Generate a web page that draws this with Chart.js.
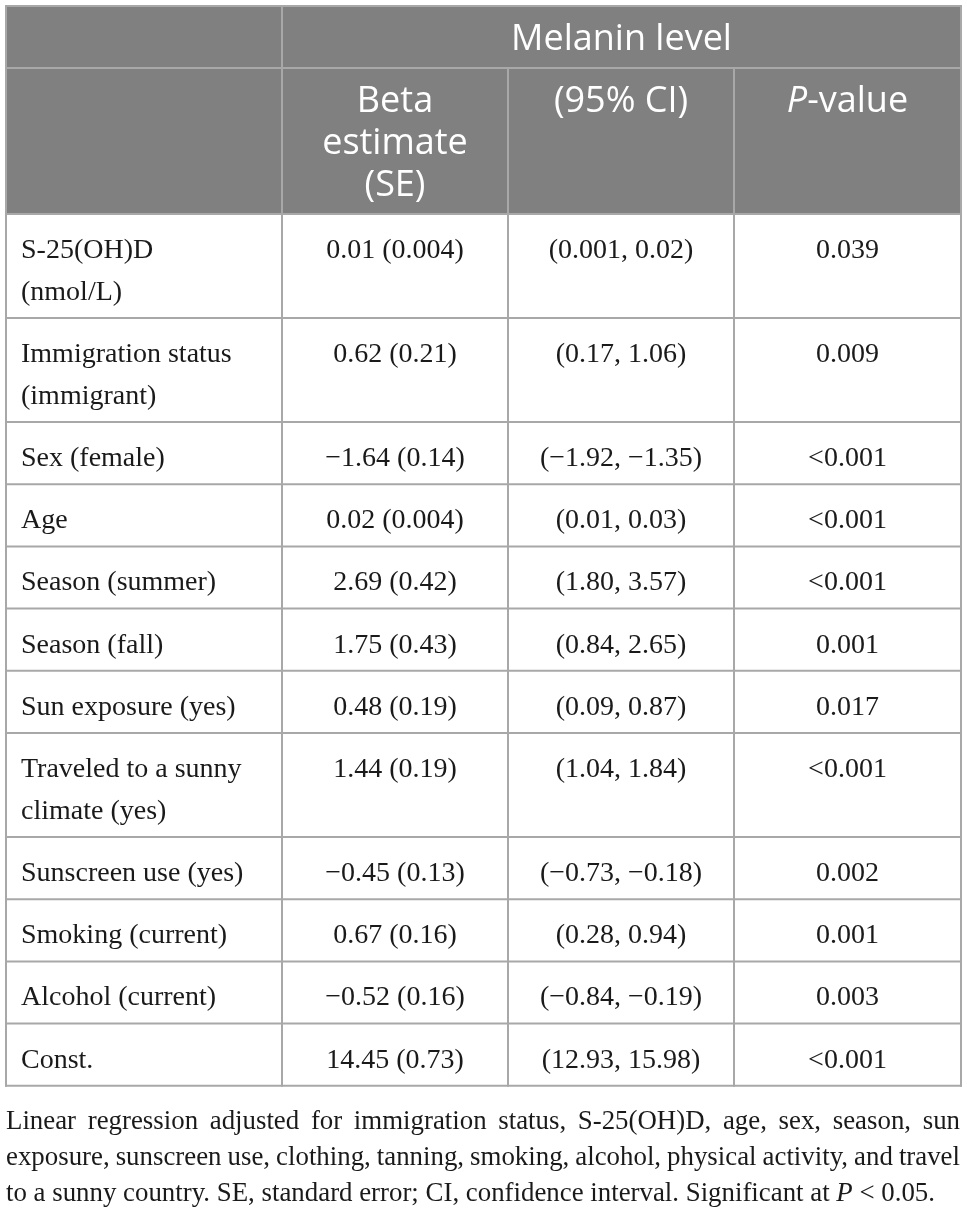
<!DOCTYPE html>
<html>
<head>
<meta charset="utf-8">
<script src="https://cdn.jsdelivr.net/npm/chart.js@4.4.1/dist/chart.umd.min.js"></script>
<style>
  html, body { margin: 0; padding: 0; background: #fff; }
  #wrap { width: 967px; height: 1214px; }
</style>
</head>
<body>
<div id="wrap"><canvas id="tableChart"></canvas></div>
<script>
// table content
const groupTitle = "Melanin level";
const columnHeads = [[], ["Beta", "estimate", "(SE)"], ["(95% CI)"], ["*P*-value"]];
const rowLabels = [
  ["S-25(OH)D", "(nmol/L)"],
  ["Immigration status", "(immigrant)"],
  ["Sex (female)"],
  ["Age"],
  ["Season (summer)"],
  ["Season (fall)"],
  ["Sun exposure (yes)"],
  ["Traveled to a sunny", "climate (yes)"],
  ["Sunscreen use (yes)"],
  ["Smoking (current)"],
  ["Alcohol (current)"],
  ["Const."]
];
const betaEstimates = ["0.01 (0.004)", "0.62 (0.21)", "\u22121.64 (0.14)", "0.02 (0.004)", "2.69 (0.42)", "1.75 (0.43)",
  "0.48 (0.19)", "1.44 (0.19)", "\u22120.45 (0.13)", "0.67 (0.16)", "\u22120.52 (0.16)", "14.45 (0.73)"];
const confIntervals = ["(0.001, 0.02)", "(0.17, 1.06)", "(\u22121.92, \u22121.35)", "(0.01, 0.03)", "(1.80, 3.57)", "(0.84, 2.65)",
  "(0.09, 0.87)", "(1.04, 1.84)", "(\u22120.73, \u22120.18)", "(0.28, 0.94)", "(\u22120.84, \u22120.19)", "(12.93, 15.98)"];
const pValues = ["0.039", "0.009", "<0.001", "<0.001", "<0.001", "0.001", "0.017", "<0.001", "0.002", "0.001", "0.003", "<0.001"];
const footnoteLines = [
  "Linear regression adjusted for immigration status, S-25(OH)D, age, sex, season, sun",
  "exposure, sunscreen use, clothing, tanning, smoking, alcohol, physical activity, and travel",
  "to a sunny country. SE, standard error; CI, confidence interval. Significant at *P* < 0.05."
];

// layout (in scale units, which are page pixels here)
const colEdges = [6, 282, 508, 734, 961];
const tableTop = 6;
const headSplit = 68;
const bodyTop = 214;
const singleRowH = 62.2;
const extraLineH = 41.8;
const cellPadLeft = 15;
const noteLastLineW = 929;
const headFill = '#808080';
const gridColor = '#a8a8a8';
const bodyFont = '28px "Liberation Serif"';
const headFont = '36px "Open Sans"';
const noteFont = '28px "Liberation Serif"';

function runs(text) {
  return text.split('*').map((t, i) => ({ t, it: i % 2 === 1 })).filter(r => r.t.length);
}
function richWidth(ctx, text, font) {
  let w = 0;
  runs(text).forEach(r => { ctx.font = (r.it ? 'italic ' : '') + font; w += ctx.measureText(r.t).width; });
  return w;
}
function drawRich(ctx, text, x, yb, font, align) {
  const w = richWidth(ctx, text, font);
  let cx = align === 'center' ? x - w / 2 : x;
  ctx.textAlign = 'left';
  ctx.textBaseline = 'alphabetic';
  runs(text).forEach(r => {
    ctx.font = (r.it ? 'italic ' : '') + font;
    ctx.fillText(r.t, cx, yb);
    cx += ctx.measureText(r.t).width;
  });
}

const tablePlugin = {
  id: 'tableCells',
  afterDraw(chart) {
    const { ctx, scales: { x, y } } = chart;
    const px = v => x.getPixelForValue(v);
    const py = v => y.getPixelForValue(v);

    const rowEdges = [bodyTop];
    rowLabels.forEach(lines => rowEdges.push(rowEdges[rowEdges.length - 1] + singleRowH + extraLineH * (lines.length - 1)));
    const tableBottom = rowEdges[rowEdges.length - 1];

    ctx.save();
    // header background
    ctx.fillStyle = headFill;
    ctx.fillRect(px(colEdges[0]), py(tableTop), px(colEdges[4]) - px(colEdges[0]), py(bodyTop) - py(tableTop));

    // grid
    ctx.strokeStyle = gridColor;
    ctx.lineWidth = 2;
    const hline = (yv, x0, x1) => { ctx.beginPath(); ctx.moveTo(px(x0) - 1, py(yv)); ctx.lineTo(px(x1) + 1, py(yv)); ctx.stroke(); };
    const vline = (xv, y0, y1) => { ctx.beginPath(); ctx.moveTo(px(xv), py(y0) - 1); ctx.lineTo(px(xv), py(y1) + 1); ctx.stroke(); };
    hline(tableTop, colEdges[0], colEdges[4]);
    hline(headSplit, colEdges[0], colEdges[4]);
    rowEdges.forEach(e => hline(e, colEdges[0], colEdges[4]));
    vline(colEdges[0], tableTop, tableBottom);
    vline(colEdges[1], tableTop, tableBottom);
    vline(colEdges[2], headSplit, tableBottom);
    vline(colEdges[3], headSplit, tableBottom);
    vline(colEdges[4], tableTop, tableBottom);

    // header text
    ctx.fillStyle = '#ffffff';
    drawRich(ctx, groupTitle, px((colEdges[1] + colEdges[4]) / 2), py(50), headFont, 'center');
    columnHeads.forEach((lines, c) => {
      const cx = px((colEdges[c] + colEdges[c + 1]) / 2);
      lines.forEach((t, k) => drawRich(ctx, t, cx, py(112 + 42 * k), headFont, 'center'));
    });

    // body text
    ctx.fillStyle = '#1a1a1a';
    const valueCols = [betaEstimates, confIntervals, pValues];
    rowLabels.forEach((lines, r) => {
      const base = rowEdges[r] + 44;
      lines.forEach((t, k) => drawRich(ctx, t, px(colEdges[0] + cellPadLeft), py(base + extraLineH * k), bodyFont, 'left'));
      valueCols.forEach((vals, c) => {
        drawRich(ctx, vals[r], px((colEdges[c + 1] + colEdges[c + 2]) / 2), py(base), bodyFont, 'center');
      });
    });

    // footnote: condensed so the last line has the source width, other lines justified
    const noteLeft = px(colEdges[0]);
    const noteWidth = px(colEdges[4]) - px(colEdges[0]) - 1;
    ctx.font = noteFont;
    const spaceW = ctx.measureText(' ').width;
    const natural = line => line.split(' ').reduce((s, w) => s + richWidth(ctx, w, noteFont), 0) + spaceW * (line.split(' ').length - 1);
    const sx = (px(noteLastLineW) - px(0)) / natural(footnoteLines[footnoteLines.length - 1]);
    footnoteLines.forEach((line, i) => {
      const words = line.split(' ');
      const wordsW = words.reduce((s, w) => s + richWidth(ctx, w, noteFont), 0);
      const last = i === footnoteLines.length - 1;
      const gap = last ? spaceW : (noteWidth / sx - wordsW) / (words.length - 1);
      ctx.save();
      ctx.translate(noteLeft, py(1129 + 36 * i));
      ctx.scale(sx, 1);
      let cx = 0;
      words.forEach(w => { drawRich(ctx, w, cx, 0, noteFont, 'left'); cx += richWidth(ctx, w, noteFont) + gap; });
      ctx.restore();
    });
    ctx.restore();
  }
};

new Chart(document.getElementById('tableChart'), {
  type: 'scatter',
  data: { datasets: [] },
  options: {
    responsive: true,
    maintainAspectRatio: false,
    animation: false,
    layout: { padding: 0 },
    plugins: { legend: { display: false }, tooltip: { enabled: false } },
    scales: {
      x: { type: 'linear', min: 0, max: 967, display: false },
      y: { type: 'linear', min: 0, max: 1214, reverse: true, display: false }
    }
  },
  plugins: [tablePlugin]
});
</script>
</body>
</html>
